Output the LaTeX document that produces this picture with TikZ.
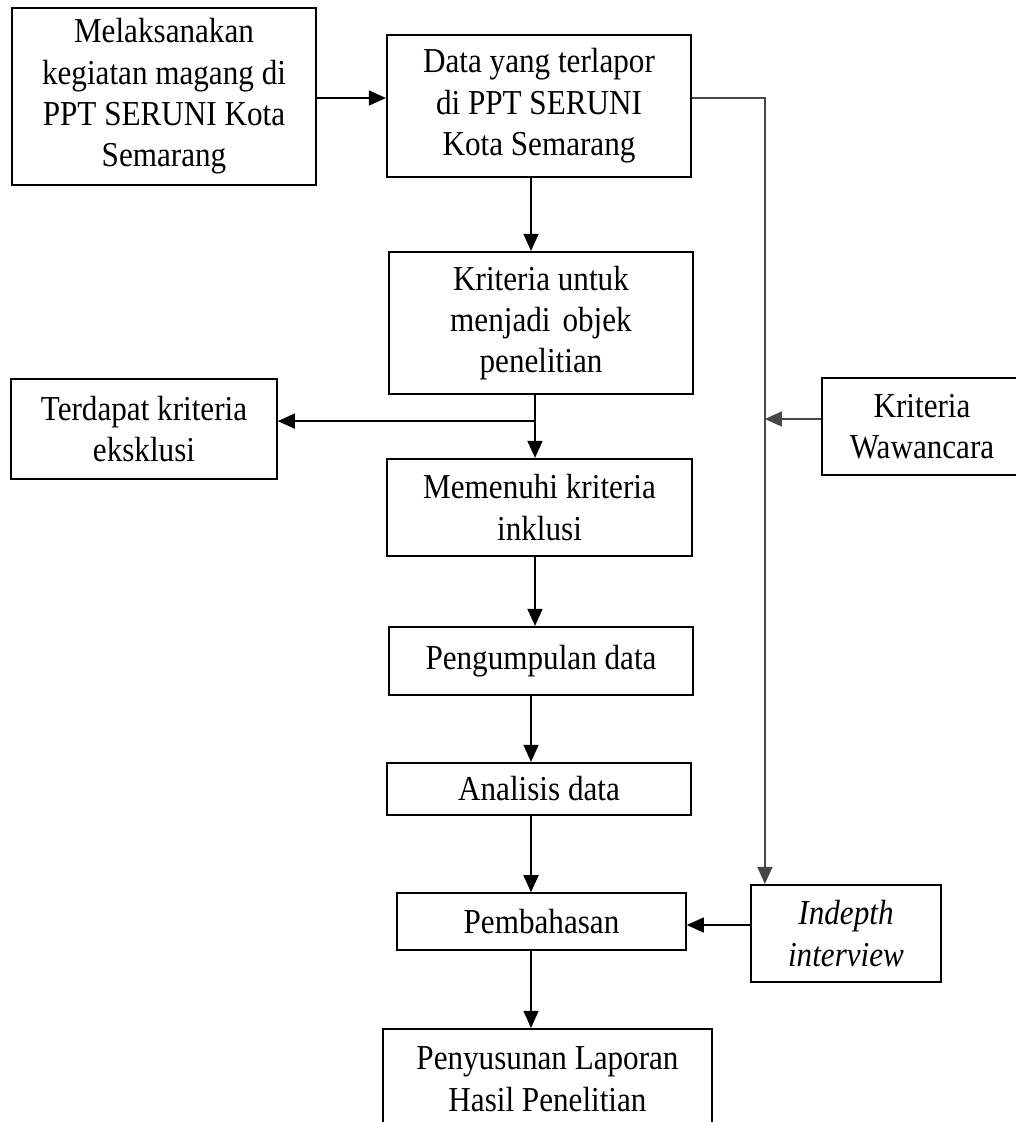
\documentclass[tikz,border=0pt]{standalone}
\usepackage{fontspec}
\setmainfont{Liberation Serif}[FakeStretch=0.89]
\usetikzlibrary{arrows.meta,calc}
\begin{document}
\begin{tikzpicture}[x=1pt,y=-1pt,
  box/.style={draw, line width=2.2pt, align=center, inner sep=0pt,
    font=\fontsize{35}{41.4}\selectfont},
  thinbox/.style={box, line width=1.6pt},
  tip/.style={-{Triangle[length=17pt,width=15pt]}},
  arr/.style={line width=1.5pt, tip},
  conn/.style={line width=1.5pt, draw=black!72}
]
\useasboundingbox (0,0) rectangle (1016,1122);
\clip (0,0) rectangle (1016,1122);

\node[box, minimum width=304pt, minimum height=177pt] (b1) at (164,96.5)
  {Melaksanakan\\kegiatan magang di\\PPT SERUNI Kota\\Semarang};
\node[box, minimum width=304pt, minimum height=142pt] (b2) at (539,106)
  {Data yang terlapor\\di PPT SERUNI\\Kota Semarang};
\node[box, minimum width=304pt, minimum height=142pt] (b3) at (541,323)
  {Kriteria untuk\\menjadi\hspace{0.12em} objek\\penelitian};
\node[thinbox, minimum width=266pt, minimum height=100pt] (ex) at (144,429)
  {Terdapat kriteria\\eksklusi};
\node[box, minimum width=305pt, minimum height=97pt] (b5) at (539.5,507.5)
  {Memenuhi kriteria\\inklusi};
\node[box, minimum width=304pt, minimum height=68pt] (b6) at (541,661)
  {Pengumpulan data};
\node[box, minimum width=304pt, minimum height=52pt] (b7) at (539,789)
  {Analisis data};
\node[thinbox, minimum width=289pt, minimum height=57pt] (b8) at (541.5,921.5)
  {Pembahasan};
\node[box, minimum width=329pt, minimum height=100pt] (b9) at (547.5,1079)
  {Penyusunan Laporan\\Hasil Penelitian};
\node[thinbox, minimum width=200pt, minimum height=97pt] (kw) at (922,426.5)
  {Kriteria\\Wawancara};
\node[box, minimum width=190pt, minimum height=97pt] (iv) at (846,933.5)
  {\itshape Indepth\\\itshape interview};

% connectors
\draw[arr] ([yshift=-1.5pt]b1.east) -- ([yshift=-1.5pt]b1.east -| b2.west);
\path ([yshift=8pt]b2.east) coordinate (s1);
\path ([xshift=15pt]iv.north west) coordinate (t1);
\draw[conn, tip] (s1) -| (t1);
\draw[arr] ([xshift=-8pt]b2.south) -- ([xshift=-8pt]b2.south |- b3.north);
\draw[arr] ([xshift=-6pt]b3.south) -- ([xshift=-6pt]b3.south |- b5.north);
\path ([xshift=-6pt,yshift=-26pt]b3.south) coordinate (j1);
\draw[arr] (j1) -- (j1 -| ex.east);
\draw[arr] ([xshift=-4.5pt]b5.south) -- ([xshift=-4.5pt]b5.south |- b6.north);
\draw[arr] ([xshift=-10pt]b6.south) -- ([xshift=-10pt]b6.south |- b7.north);
\draw[arr] ([xshift=-8pt]b7.south) -- ([xshift=-8pt]b7.south |- b8.north);
\draw[arr] ([xshift=-10.5pt]b8.south) -- ([xshift=-10.5pt]b8.south |- b9.north);
\draw[arr, draw=black!72] ([yshift=7.5pt]kw.west) -- ([yshift=7.5pt]kw.west -| t1);
\draw[arr] ([yshift=8.5pt]iv.west) -- ([yshift=8.5pt]iv.west -| b8.east);
\end{tikzpicture}
\end{document}
